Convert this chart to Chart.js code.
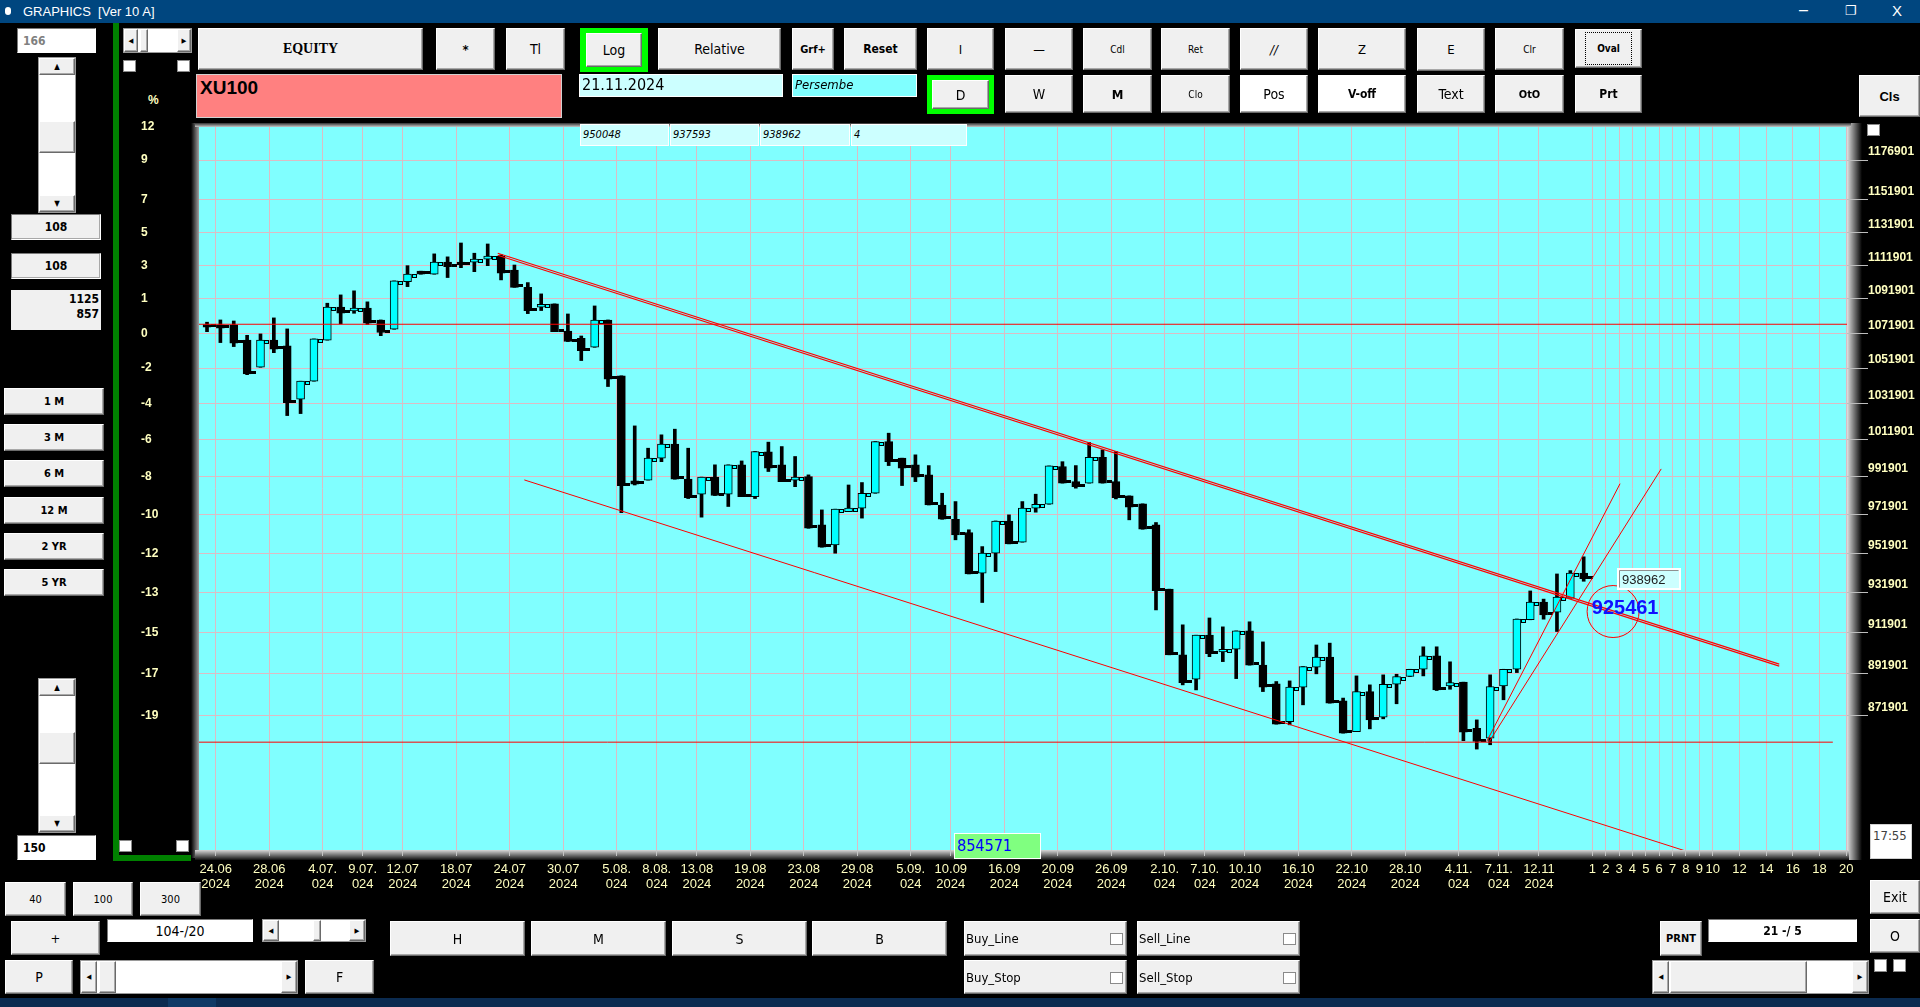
<!DOCTYPE html>
<html>
<head>
<meta charset="utf-8">
<title>GRAPHICS</title>
<script src="https://cdn.jsdelivr.net/npm/chart.js@4.4.1/dist/chart.umd.min.js"></script>
<style>
  * { box-sizing: border-box; }
  body {
    margin: 0; width: 1920px; height: 1007px; background: #000; overflow: hidden; position: relative;
    font-family: "Liberation Sans Narrow", "DejaVu Sans Condensed", "Liberation Sans", sans-serif;
  }
  .a { position: absolute; }
  .b {
    position: absolute; background: #f0f0f0; color: #000; font-size: 13px;
    border: 1px solid; border-color: #fff #6a6a6a #6a6a6a #fff; box-shadow: inset -1px -1px 0 #a8a8a8;
    display: flex; align-items: center; justify-content: center; z-index: 2;
  }
  .bold { font-weight: bold; }
  .wh { background: #fff; }
  .green { position: absolute; background: #00ff00; z-index: 2; }
  .field {
    position: absolute; background: #fff; border: 1px solid; border-color: #7a7a7a #fff #fff #7a7a7a;
    display: flex; align-items: center; z-index: 2; font-size: 13px;
  }
  .cb { position: absolute; width: 13px; height: 12px; background: #fff; border: 1px solid #8a8a8a; z-index: 2; }
  .vs { position: absolute; background: #fff; border: 1px solid #9a9a9a; z-index: 2; }
  #wrap { position: absolute; left: 141px; top: 100px; width: 1779px; height: 800px; z-index: 1; }
</style>
</head>
<body>

<!-- title bar -->
<div class="a" style="left:0;top:0;width:1920px;height:23px;background:#00467f;color:#fff;font:13px 'Liberation Sans',sans-serif;">
  <span class="a" style="left:5px;top:7px;width:6px;height:8px;border-radius:3px;background:#fff;"></span>
  <span class="a" style="left:23px;top:4px;">GRAPHICS&nbsp; [Ver 10 A]</span>
  <span class="a" style="left:1799px;top:1px;font-size:16px;">&ndash;</span>
  <span class="a" style="left:1845px;top:3px;font-size:13px;">&#10064;</span>
  <span class="a" style="left:1892px;top:2px;font-size:15px;">X</span>
</div>

<!-- left panel -->
<div class="field" style="left:17px;top:28px;width:79px;height:25px;color:#808080;font-weight:bold;font-size:12px;padding-left:5px;">166</div>
<div class="vs" style="left:38px;top:57px;width:38px;height:156px;">
  <div class="b" style="left:0;top:0;width:36px;height:17px;font-size:8px;">&#9650;</div>
  <div class="b" style="left:0;top:63px;width:36px;height:32px;"></div>
  <div class="b" style="left:0;top:137px;width:36px;height:17px;font-size:8px;">&#9660;</div>
</div>
<div class="b bold" style="left:11px;top:214px;width:90px;height:26px;font-size:12px;border-color:#7a7a7a #fff #fff #7a7a7a;">108</div>
<div class="b bold" style="left:11px;top:253px;width:90px;height:26px;font-size:12px;border-color:#7a7a7a #fff #fff #7a7a7a;">108</div>
<div class="a bold" style="left:11px;top:290px;width:90px;height:40px;background:#f0f0f0;text-align:right;font-size:12px;line-height:15px;padding:2px 2px 0 0;z-index:2;">1125<br>857</div>
<div class="b bold" style="left:4px;top:388px;width:100px;height:27px;font-size:11px;">1 M</div>
<div class="b bold" style="left:4px;top:424px;width:100px;height:27px;font-size:11px;">3 M</div>
<div class="b bold" style="left:4px;top:460px;width:100px;height:27px;font-size:11px;">6 M</div>
<div class="b bold" style="left:4px;top:497px;width:100px;height:27px;font-size:11px;">12 M</div>
<div class="b bold" style="left:4px;top:533px;width:100px;height:27px;font-size:11px;">2 YR</div>
<div class="b bold" style="left:4px;top:569px;width:100px;height:27px;font-size:11px;">5 YR</div>
<div class="vs" style="left:38px;top:678px;width:38px;height:155px;">
  <div class="b" style="left:0;top:0;width:36px;height:17px;font-size:8px;">&#9650;</div>
  <div class="b" style="left:0;top:53px;width:36px;height:32px;"></div>
  <div class="b" style="left:0;top:136px;width:36px;height:17px;font-size:8px;">&#9660;</div>
</div>
<div class="field" style="left:17px;top:835px;width:79px;height:25px;font-weight:bold;font-size:12px;padding-left:5px;">150</div>

<div class="a" style="left:113px;top:23px;width:6px;height:838px;background:#008000;"></div>
<div class="a" style="left:113px;top:855px;width:78px;height:6px;background:#008000;"></div>
<div class="vs" style="left:123px;top:28px;width:69px;height:25px;">
  <div class="b" style="left:0;top:0;width:14px;height:23px;font-size:7px;">&#9664;</div>
  <div class="b" style="left:16px;top:0;width:8px;height:23px;"></div>
  <div class="b" style="left:53px;top:0;width:14px;height:23px;font-size:7px;">&#9654;</div>
</div>
<div class="cb" style="left:123px;top:60px;"></div>
<div class="cb" style="left:177px;top:60px;"></div>
<div class="cb" style="left:119px;top:840px;"></div>
<div class="cb" style="left:176px;top:840px;"></div>
<div class="a bold" style="left:148px;top:93px;color:#ffffc0;font:bold 12px 'Liberation Sans',sans-serif;">%</div>

<!-- top row -->
<div class="b bold" style="left:198px;top:28px;width:225px;height:42px;font-family:'Liberation Serif',serif;font-size:14px;">EQUITY</div>
<div class="b bold" style="left:436px;top:28px;width:59px;height:42px;">*</div>
<div class="b" style="left:506px;top:28px;width:59px;height:42px;font-size:14px;">Tl</div>
<div class="green" style="left:580px;top:28px;width:68px;height:44px;"></div>
<div class="b" style="left:586px;top:33px;width:56px;height:34px;font-size:14px;">Log</div>
<div class="b" style="left:658px;top:28px;width:123px;height:42px;font-size:14px;">Relative</div>
<div class="b bold" style="left:792px;top:28px;width:42px;height:42px;font-size:11px;">Grf+</div>
<div class="b bold" style="left:844px;top:28px;width:73px;height:42px;font-size:12px;">Reset</div>
<div class="b" style="left:927px;top:28px;width:67px;height:42px;">I</div>
<div class="b" style="left:1005px;top:28px;width:68px;height:42px;">&mdash;</div>
<div class="b" style="left:1083px;top:28px;width:69px;height:42px;font-size:10px;">Cdl</div>
<div class="b" style="left:1161px;top:28px;width:69px;height:42px;font-size:10px;">Ret</div>
<div class="b" style="left:1240px;top:28px;width:68px;height:42px;font-style:italic;">//</div>
<div class="b" style="left:1318px;top:28px;width:88px;height:42px;">Z</div>
<div class="b" style="left:1417px;top:28px;width:68px;height:43px;">E</div>
<div class="b" style="left:1495px;top:28px;width:69px;height:42px;font-size:10px;">Clr</div>
<div class="b bold" style="left:1575px;top:29px;width:67px;height:39px;font-size:10px;">
  <span style="border:1px dotted #000;padding:10px 11px;">Oval</span>
</div>

<!-- second row -->
<div class="a" style="left:196px;top:74px;width:366px;height:44px;background:#ff8080;border:1px solid #d0d0d0;z-index:2;">
  <span class="a bold" style="left:3px;top:2px;font-family:'Liberation Sans',sans-serif;font-size:19px;">XU100</span>
</div>
<div class="a" style="left:579px;top:74px;width:204px;height:23px;background:#ccffff;border:1px solid #fff;z-index:2;font-size:16px;padding-left:2px;line-height:20px;">21.11.2024</div>
<div class="a" style="left:792px;top:74px;width:125px;height:23px;background:#80ffff;border:1px solid #fff;z-index:2;font-size:13px;font-style:italic;padding-left:2px;line-height:20px;">Persembe</div>
<div class="green" style="left:927px;top:75px;width:67px;height:39px;"></div>
<div class="b" style="left:932px;top:80px;width:57px;height:29px;font-size:14px;">D</div>
<div class="b" style="left:1005px;top:75px;width:68px;height:38px;font-size:14px;">W</div>
<div class="b bold" style="left:1083px;top:75px;width:69px;height:38px;font-size:13px;">M</div>
<div class="b" style="left:1161px;top:75px;width:69px;height:38px;font-size:10px;">Clo</div>
<div class="b wh" style="left:1240px;top:75px;width:68px;height:38px;font-size:14px;">Pos</div>
<div class="b bold wh" style="left:1318px;top:75px;width:88px;height:38px;font-size:12px;">V-off</div>
<div class="b" style="left:1417px;top:75px;width:68px;height:38px;font-size:14px;">Text</div>
<div class="b bold" style="left:1495px;top:75px;width:69px;height:38px;font-size:11px;">OtO</div>
<div class="b bold" style="left:1575px;top:75px;width:67px;height:38px;font-size:12px;">Prt</div>
<div class="b bold" style="left:1859px;top:75px;width:61px;height:42px;font-family:'Liberation Sans',sans-serif;font-size:13px;">Cls</div>
<div class="cb" style="left:1867px;top:124px;"></div>

<!-- value boxes over the chart top -->
<div class="a" style="left:580px;top:124px;width:89px;height:22px;background:#ccffff;border:1px solid #fff;z-index:2;font-size:11px;font-style:italic;padding:3px 2px;">950048</div>
<div class="a" style="left:670px;top:124px;width:89px;height:22px;background:#ccffff;border:1px solid #fff;z-index:2;font-size:11px;font-style:italic;padding:3px 2px;">937593</div>
<div class="a" style="left:760px;top:124px;width:90px;height:22px;background:#ccffff;border:1px solid #fff;z-index:2;font-size:11px;font-style:italic;padding:3px 2px;">938962</div>
<div class="a" style="left:851px;top:124px;width:116px;height:22px;background:#ccffff;border:1px solid #fff;z-index:2;font-size:11px;font-style:italic;padding:3px 2px;">4</div>

<!-- chart -->
<div id="wrap"><canvas id="graph"></canvas></div>

<div class="a" style="left:954px;top:833px;width:87px;height:26px;background:#80ff80;border:1px solid #fff;z-index:2;color:#0000ff;font-size:16px;padding-left:2px;line-height:23px;">854571</div>
<div class="field" style="left:1870px;top:824px;width:42px;height:35px;color:#404040;font-size:13px;padding:3px 0 0 2px;align-items:flex-start;border-color:#d0d0d0;">17:55</div>

<!-- bottom panel -->
<div class="b" style="left:5px;top:882px;width:61px;height:34px;font-size:11px;">40</div>
<div class="b" style="left:73px;top:882px;width:60px;height:34px;font-size:11px;">100</div>
<div class="b" style="left:140px;top:882px;width:61px;height:34px;font-size:11px;">300</div>
<div class="b" style="left:11px;top:921px;width:89px;height:34px;">+</div>
<div class="field" style="left:107px;top:919px;width:146px;height:23px;justify-content:center;font-size:14px;">104-/20</div>
<div class="vs" style="left:262px;top:919px;width:104px;height:23px;">
  <div class="b" style="left:0;top:0;width:16px;height:21px;font-size:7px;">&#9664;</div>
  <div class="b" style="left:50px;top:0;width:8px;height:21px;"></div>
  <div class="b" style="left:86px;top:0;width:16px;height:21px;font-size:7px;">&#9654;</div>
</div>
<div class="b" style="left:5px;top:960px;width:68px;height:34px;font-size:14px;">P</div>
<div class="vs" style="left:80px;top:960px;width:218px;height:34px;">
  <div class="b" style="left:0;top:0;width:16px;height:32px;font-size:7px;">&#9664;</div>
  <div class="b" style="left:18px;top:0;width:17px;height:32px;"></div>
  <div class="b" style="left:200px;top:0;width:16px;height:32px;font-size:7px;">&#9654;</div>
</div>
<div class="b" style="left:305px;top:960px;width:69px;height:34px;font-size:14px;">F</div>
<div class="b" style="left:390px;top:921px;width:135px;height:35px;font-size:14px;">H</div>
<div class="b" style="left:531px;top:921px;width:135px;height:35px;font-size:14px;">M</div>
<div class="b" style="left:672px;top:921px;width:135px;height:35px;font-size:14px;">S</div>
<div class="b" style="left:812px;top:921px;width:135px;height:35px;font-size:14px;">B</div>

<div class="b" style="left:964px;top:921px;width:163px;height:35px;justify-content:flex-start;padding-left:1px;font-size:13px;">Buy_Line<span class="cb" style="left:145px;top:11px;"></span></div>
<div class="b" style="left:1137px;top:921px;width:163px;height:35px;justify-content:flex-start;padding-left:1px;font-size:13px;">Sell_Line<span class="cb" style="left:145px;top:11px;"></span></div>
<div class="b" style="left:964px;top:960px;width:163px;height:34px;justify-content:flex-start;padding-left:1px;font-size:13px;">Buy_Stop<span class="cb" style="left:145px;top:11px;"></span></div>
<div class="b" style="left:1137px;top:960px;width:163px;height:34px;justify-content:flex-start;padding-left:1px;font-size:13px;">Sell_Stop<span class="cb" style="left:145px;top:11px;"></span></div>

<div class="b bold" style="left:1660px;top:921px;width:42px;height:35px;font-size:11px;">PRNT</div>
<div class="field" style="left:1708px;top:919px;width:149px;height:23px;justify-content:center;font-size:12px;font-weight:bold;">21 -/ 5</div>
<div class="b" style="left:1870px;top:880px;width:50px;height:34px;font-size:14px;">Exit</div>
<div class="b" style="left:1870px;top:919px;width:50px;height:34px;font-size:14px;">O</div>
<div class="vs" style="left:1652px;top:960px;width:217px;height:34px;">
  <div class="b" style="left:0;top:0;width:16px;height:32px;font-size:7px;">&#9664;</div>
  <div class="b" style="left:17px;top:0;width:137px;height:32px;"></div>
  <div class="b" style="left:199px;top:0;width:16px;height:32px;font-size:7px;">&#9654;</div>
</div>
<div class="cb" style="left:1874px;top:959px;height:13px;"></div>
<div class="cb" style="left:1893px;top:959px;height:13px;"></div>
<div class="a" style="left:0;top:998px;width:1920px;height:9px;background:#0b2b50;"></div>
<div class="a" style="left:168px;top:998px;width:48px;height:9px;background:#0f3a66;"></div>

<script>
// XU100 daily candles (oldest first)
const opens = [1076900, 1076700, 1076700, 1068000, 1052400, 1068000, 1064600, 1034400, 1044500, 1067900,
  1087100, 1084900, 1086600, 1079600, 1074200, 1102200, 1108400, 1106600, 1113800, 1113800,
  1113800, 1115600, 1117400, 1109100, 1098800, 1087100, 1089000, 1073200, 1069000, 1063800,
  1079600, 1047500, 989800, 990200, 1002000, 1009600, 990700, 982700, 991800, 982700,
  998400, 981400, 1005400, 998400, 990200, 992100, 966600, 956200, 973500, 975300,
  983200, 1011000, 1002000, 998400, 993000, 977000, 969500, 962600, 941700, 951900,
  968600, 957600, 975300, 977400, 997500, 989400, 988600, 1002500, 989400, 981800,
  977600, 966600, 933600, 901100, 889300, 910700, 902500, 903800, 912800, 896100,
  887100, 869200, 885500, 895100, 900000, 879000, 864500, 883400, 871300, 886900,
  890600, 894100, 900600, 886100, 887900, 866100, 861500, 886100, 894100, 918300,
  927100, 922100, 929100, 941700];
const highs = [1078300, 1079600, 1079000, 1070700, 1071500, 1080800, 1074400, 1044500, 1068600, 1089400,
  1094300, 1096700, 1090200, 1079600, 1102600, 1111700, 1108400, 1118800, 1117000, 1125400,
  1119200, 1124800, 1118200, 1112100, 1101600, 1094900, 1089000, 1083100, 1070300, 1087800,
  1079600, 1047500, 1019600, 1007400, 1014700, 1017800, 1007400, 991800, 998400, 998400,
  1000500, 1005600, 1010700, 1008300, 1002900, 993000, 974400, 974800, 987600, 988900,
  1011000, 1015600, 1002000, 1003800, 998000, 983200, 978800, 964000, 955300, 968600,
  971800, 978800, 982700, 997800, 1000100, 998000, 1010500, 1006500, 1005600, 981800,
  977600, 967800, 933600, 915800, 910700, 919200, 914800, 912800, 917300, 907400,
  888200, 888500, 895400, 905900, 906800, 880300, 890900, 886600, 891400, 891700,
  894100, 905000, 905000, 897700, 887900, 870000, 891400, 894100, 918700, 932700,
  928600, 941300, 943000, 950048];
const lows = [1072800, 1066500, 1064200, 1048200, 1052400, 1060700, 1025300, 1026400, 1044500, 1067900,
  1077300, 1083500, 1076900, 1070500, 1074200, 1099200, 1106600, 1106600, 1104600, 1110500,
  1108100, 1111700, 1103200, 1098800, 1083300, 1085100, 1072800, 1067100, 1056200, 1063800,
  1041500, 973000, 987600, 990200, 1000100, 990700, 980400, 970600, 982000, 976200,
  981400, 980400, 994800, 989400, 986700, 964800, 955000, 951900, 973500, 970100,
  983200, 998000, 987300, 989400, 977000, 969500, 958800, 941300, 926900, 942500,
  956700, 957600, 973200, 977400, 988600, 985900, 988600, 988600, 980200, 969200,
  964300, 923200, 901100, 886600, 884200, 900200, 897800, 889600, 896100, 883400,
  868000, 867700, 877100, 891900, 877900, 863800, 864500, 865800, 870500, 877600,
  890600, 890900, 883900, 884500, 860300, 856400, 858400, 879500, 892500, 918300,
  918600, 912500, 929100, 937593];
const closes = [1075400, 1074800, 1066100, 1048600, 1067900, 1062700, 1032500, 1044500, 1068600, 1087100,
  1083500, 1086500, 1077700, 1072300, 1102600, 1106600, 1106600, 1113800, 1111100, 1112300,
  1115600, 1117400, 1107200, 1098800, 1085100, 1088800, 1072800, 1067100, 1061900, 1079600,
  1045600, 987300, 988000, 1002000, 1009600, 990700, 980900, 991800, 982000, 998400,
  981400, 1005600, 996600, 989400, 991800, 964800, 955000, 974800, 975300, 983200,
  1011000, 1000100, 996600, 991800, 977000, 969500, 961400, 941300, 951900, 968600,
  956700, 975300, 977400, 997800, 988600, 986700, 1002500, 988600, 980900, 975800,
  964300, 932900, 901100, 887700, 910700, 901600, 903800, 912800, 896100, 885500,
  868000, 885500, 895400, 900000, 877900, 863800, 883400, 870000, 886900, 890600,
  894100, 900600, 884200, 887700, 864300, 859900, 885800, 894100, 918700, 927100,
  920700, 929600, 941700, 938962];

// x axis: candle index of each dated grid line, and the two label lines
const dateIdx = [0, 4, 8, 11, 14, 18, 22, 26, 30, 33, 36, 40, 44, 48, 52, 55, 59, 63, 67, 71, 74, 77, 81, 85, 89, 93, 96, 99];
const dateTop = ["24.06", "28.06", "4.07.", "9.07.", "12.07", "18.07", "24.07", "30.07", "5.08.", "8.08.",
  "13.08", "19.08", "23.08", "29.08", "5.09.", "10.09", "16.09", "20.09", "26.09", "2.10.",
  "7.10.", "10.10", "16.10", "22.10", "28.10", "4.11.", "7.11.", "12.11"];
const dateBottom = ["2024", "2024", "024", "024", "2024", "2024", "2024", "2024", "024", "024",
  "2024", "2024", "2024", "2024", "024", "2024", "2024", "2024", "2024", "024",
  "024", "2024", "2024", "2024", "2024", "024", "024", "2024"];
const futureDays = [1, 2, 3, 4, 5, 6, 7, 8, 9, 10, 12, 14, 16, 18, 20];

// y axis: price grid lines and the percent labels of the left strip (first one is the top edge)
const priceTicks = [1176901, 1151901, 1131901, 1111901, 1091901, 1071901, 1051901, 1031901, 1011901,
  991901, 971901, 951901, 931901, 911901, 891901, 871901];
const pctLabels = ["12", "9", "7", "5", "3", "1", "0", "-2", "-4", "-6", "-8", "-10", "-12", "-13", "-15", "-17", "-19"];

// drawn lines: [candle index, price] end points
const levelHigh = 1077100;
const levelLow = 859600;
const channelTop = [[21.75, 1119200], [117.63, 896600]];
const channelTop2 = [[21.75, 1117990], [117.63, 895630]];
const channelLow = [[23.74, 990300], [112.7, 806700]];
const fanA = [[95.74, 859900], [105.72, 988300]];
const fanB = [[95.94, 859900], [108.8, 996200]];
const ovalAt = [105.2, 922400];
const trendValue = 925461;
const trendValueX = 106.1;

const X_MIN = -0.6, X_MAX = 122.7;
const Y_MIN = 811000, Y_MAX = 1198100;
const GRID_SHIFT = 0.65;
const lastIdx = closes.length - 1;

const CREAM = "#ffffc0";
const GRID = "#dcbcc4";
const RED = "#ff0000";
const SANS = "'Liberation Sans', Arial, sans-serif";

const xTickValues = dateIdx.map(i => i + GRID_SHIFT)
  .concat(futureDays.map(n => lastIdx + GRID_SHIFT + n - 1));
const xTickLabels = dateTop.map((t, k) => [t, dateBottom[k]]).concat(futureDays.map(String));

const idx = closes.map((_, i) => i);
const toPts = arr => arr.map(p => ({ x: p[0], y: p[1] }));
const lineSet = (pts, width) => ({
  type: "line", data: toPts(pts), borderColor: RED, borderWidth: width,
  pointRadius: 0, fill: false, order: 1,
});

// chart frame, cyan plot area
const framePlugin = {
  id: "frame",
  beforeDraw(chart) {
    const { ctx, chartArea: { left, right, top, bottom } } = chart;
    ctx.save();
    let g = ctx.createLinearGradient(left - 8, 0, left, 0);
    g.addColorStop(0, "#000"); g.addColorStop(1, "#a0a0a0");
    ctx.fillStyle = g; ctx.fillRect(left - 8, top - 4, 8, bottom - top + 12);
    g = ctx.createLinearGradient(right, 0, right + 15, 0);
    g.addColorStop(0, "#e0e0e0"); g.addColorStop(1, "#000");
    ctx.fillStyle = g; ctx.fillRect(right, top - 4, 15, bottom - top + 14);
    g = ctx.createLinearGradient(0, top - 4, 0, top);
    g.addColorStop(0, "#303030"); g.addColorStop(1, "#c8c8c8");
    ctx.fillStyle = g; ctx.fillRect(left - 4, top - 4, right - left + 8, 4);
    g = ctx.createLinearGradient(0, bottom, 0, bottom + 10);
    g.addColorStop(0, "#d8d8d8"); g.addColorStop(1, "#101010");
    ctx.fillStyle = g; ctx.fillRect(left - 4, bottom, right - left + 6, 10);
    ctx.fillStyle = "#80ffff";
    ctx.fillRect(left, top, right - left, bottom - top);
    ctx.restore();
  },
};

// close tick on the right of each body, value labels
const candlePlugin = {
  id: "candleExtras",
  afterDatasetDraw(chart, args) {
    if (args.index !== 1) return;
    const { ctx, scales: { x, y } } = chart;
    ctx.save();
    closes.forEach((c, i) => {
      const px = Math.round(x.getPixelForValue(i)) + 4;
      const py = Math.round(y.getPixelForValue(c));
      const up = c >= opens[i];
      const ty = up ? py : py - 3;
      ctx.fillStyle = up ? "#00ffff" : "#000";
      ctx.fillRect(px, ty, 5, 3);
      if (up) {
        ctx.strokeStyle = "#000"; ctx.lineWidth = 1;
        ctx.strokeRect(px + 0.5, ty + 0.5, 4, 3);
      }
    });
    ctx.restore();
  },
  afterDatasetsDraw(chart) {
    const { ctx, scales: { x, y } } = chart;
    ctx.save();
    ctx.font = "bold 20px " + SANS;
    ctx.fillStyle = "#1010ff";
    ctx.textAlign = "center"; ctx.textBaseline = "middle";
    ctx.fillText(String(trendValue), x.getPixelForValue(trendValueX), y.getPixelForValue(trendValue) + 3);

    const bx = Math.round(x.getPixelForValue(lastIdx + 2.5));
    const by = Math.round(y.getPixelForValue(closes[lastIdx]));
    ctx.fillStyle = "#ccffff"; ctx.fillRect(bx, by - 11, 64, 22);
    ctx.strokeStyle = "#ffffff"; ctx.lineWidth = 2; ctx.strokeRect(bx + 1, by - 10, 62, 20);
    ctx.strokeStyle = "#909090"; ctx.lineWidth = 1;
    ctx.beginPath(); ctx.moveTo(bx + 2.5, by + 8.5); ctx.lineTo(bx + 2.5, by - 8.5); ctx.lineTo(bx + 61.5, by - 8.5); ctx.stroke();
    ctx.font = "13px " + SANS;
    ctx.fillStyle = "#202020"; ctx.textAlign = "left";
    ctx.fillText(String(closes[lastIdx]), bx + 5, by + 1);
    ctx.restore();
  },
};

new Chart(document.getElementById("graph"), {
  type: "bar",
  data: {
    datasets: [
      {
        label: "wick",
        data: idx.map(i => ({ x: i, y: [lows[i], highs[i]] })),
        backgroundColor: "#000",
        barThickness: 3,
        grouped: false,
        order: 3,
      },
      {
        label: "body",
        data: idx.map(i => ({ x: i, y: [Math.min(opens[i], closes[i]), Math.max(opens[i], closes[i])] })),
        backgroundColor: idx.map(i => (closes[i] >= opens[i] ? "#00ffff" : "#000")),
        borderColor: "#000",
        borderWidth: 1,
        borderSkipped: false,
        barThickness: 8,
        minBarLength: 2,
        grouped: false,
        order: 2,
      },
      lineSet([[X_MIN, levelHigh], [X_MAX, levelHigh]], 1),
      lineSet([[X_MIN, levelLow], [121.64, levelLow]], 1),
      lineSet(channelTop, 1.2),
      lineSet(channelTop2, 1.2),
      lineSet(channelLow, 1),
      lineSet(fanA, 1),
      lineSet(fanB, 1),
      {
        type: "scatter",
        data: [{ x: ovalAt[0], y: ovalAt[1] }],
        pointRadius: 26,
        pointBorderColor: RED,
        pointBackgroundColor: "rgba(0,0,0,0)",
        pointBorderWidth: 1,
        order: 1,
      },
    ],
  },
  options: {
    responsive: true,
    maintainAspectRatio: false,
    animation: false,
    devicePixelRatio: 1,
    events: [],
    layout: { autoPadding: false, padding: { top: 27, left: 0, right: 0, bottom: 0 } },
    plugins: { legend: { display: false }, tooltip: { enabled: false } },
    scales: {
      x: {
        type: "linear",
        bounds: "data",
        offset: false,
        min: X_MIN,
        max: X_MAX,
        afterBuildTicks: s => { s.ticks = xTickValues.map(v => ({ value: v })); },
        afterFit: s => { s.height = 50; },
        grid: { offset: false, color: GRID, tickLength: 6, tickColor: "#c4c4c4" },
        border: { display: false },
        ticks: {
          autoSkip: false, maxRotation: 0, minRotation: 0, padding: 6,
          color: CREAM, font: { family: SANS, size: 13, lineHeight: 1.15 },
          callback: (v, i) => xTickLabels[i],
        },
      },
      yl: {
        type: "logarithmic",
        position: "left",
        min: Y_MIN,
        max: Y_MAX,
        afterBuildTicks: s => { s.ticks = [Y_MAX].concat(priceTicks).map(v => ({ value: v })); },
        afterFit: s => { s.width = 58; },
        grid: { display: false, drawTicks: false, drawOnChartArea: false },
        border: { display: false },
        ticks: {
          autoSkip: false, crossAlign: "far", padding: 0,
          color: CREAM, font: { family: SANS, size: 12, weight: "bold" },
          callback: (v, i) => pctLabels[i],
        },
      },
      y: {
        type: "logarithmic",
        position: "right",
        min: Y_MIN,
        max: Y_MAX,
        afterBuildTicks: s => { s.ticks = priceTicks.map(v => ({ value: v })); },
        afterFit: s => { s.width = 73; },
        grid: { color: GRID, tickLength: 21, tickColor: "#bdbdbd" },
        border: { display: false },
        ticks: {
          autoSkip: false, padding: 0, labelOffset: -8,
          color: CREAM, font: { family: SANS, size: 12, weight: "bold" },
          callback: v => String(v),
        },
      },
    },
  },
  plugins: [framePlugin, candlePlugin],
});
</script>
</body>
</html>
